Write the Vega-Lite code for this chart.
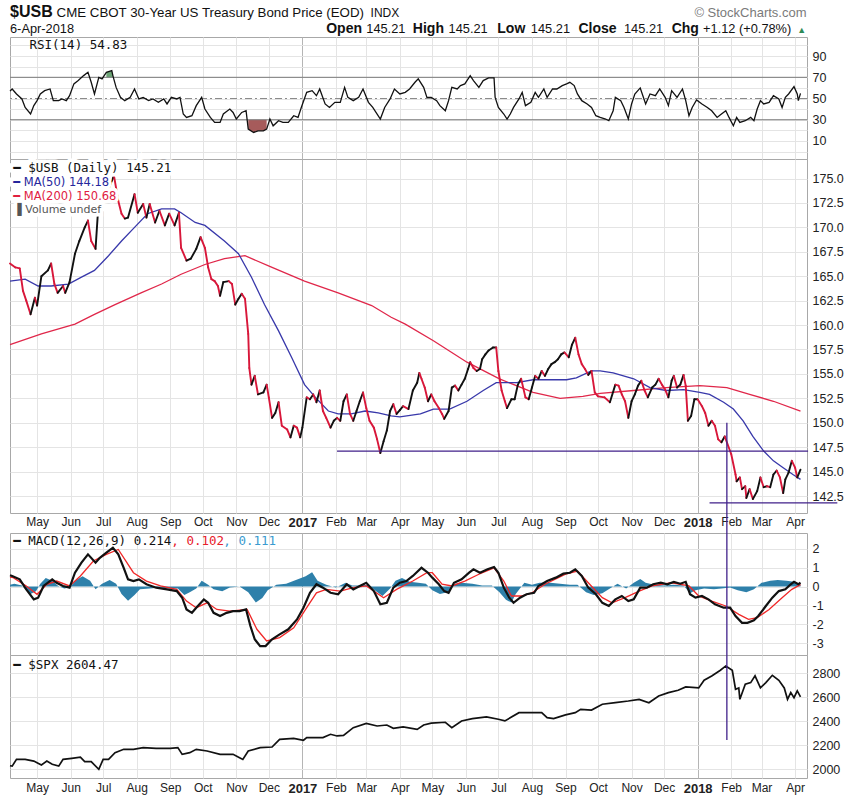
{
"$schema": "https://vega.github.io/schema/vega-lite/v6.json",
"background": "white",
"padding": {"left": 5, "top": 3, "right": 10, "bottom": 2},
"spacing": 0,
"bounds": "flush",
"config": {"view": {"stroke": "#a8a8a8"}, "font": "Liberation Sans", "axis": {"labelFont": "Liberation Sans", "labelOverlap": false}},
"datasets": {
"price": [
{"d":"2016-04-06","v":166.3},{"d":"2016-04-11","v":165.9},{"d":"2016-04-15","v":165.8},{"d":"2016-04-18","v":163.5},{"d":"2016-04-21","v":162.5},{"d":"2016-04-25","v":161.1},{"d":"2016-04-29","v":162.8},{"d":"2016-05-01","v":162.0},{"d":"2016-05-05","v":165.0},{"d":"2016-05-11","v":165.6},{"d":"2016-05-14","v":166.3},{"d":"2016-05-17","v":164.2},{"d":"2016-05-20","v":163.3},{"d":"2016-05-25","v":164.0},{"d":"2016-05-27","v":163.3},{"d":"2016-05-31","v":164.4},{"d":"2016-06-05","v":167.3},{"d":"2016-06-09","v":168.6},{"d":"2016-06-14","v":170.0},{"d":"2016-06-17","v":170.7},{"d":"2016-06-20","v":168.6},{"d":"2016-06-24","v":167.8},{"d":"2016-06-26","v":171.2},{"d":"2016-07-11","v":175.3},{"d":"2016-07-15","v":172.7},{"d":"2016-07-18","v":171.4},{"d":"2016-07-21","v":170.9},{"d":"2016-07-24","v":171.0},{"d":"2016-07-30","v":173.4},{"d":"2016-08-02","v":171.5},{"d":"2016-08-07","v":172.4},{"d":"2016-08-10","v":171.0},{"d":"2016-08-13","v":172.4},{"d":"2016-08-18","v":170.5},{"d":"2016-08-22","v":171.7},{"d":"2016-08-27","v":170.2},{"d":"2016-08-31","v":171.4},{"d":"2016-09-05","v":170.2},{"d":"2016-09-09","v":171.5},{"d":"2016-09-11","v":167.9},{"d":"2016-09-16","v":166.6},{"d":"2016-09-20","v":166.8},{"d":"2016-09-25","v":167.8},{"d":"2016-09-29","v":169.0},{"d":"2016-10-03","v":167.9},{"d":"2016-10-06","v":165.9},{"d":"2016-10-09","v":164.7},{"d":"2016-10-12","v":164.5},{"d":"2016-10-15","v":164.0},{"d":"2016-10-17","v":163.0},{"d":"2016-10-20","v":164.4},{"d":"2016-10-25","v":164.5},{"d":"2016-10-28","v":164.2},{"d":"2016-10-31","v":162.1},{"d":"2016-11-03","v":162.7},{"d":"2016-11-06","v":163.2},{"d":"2016-11-09","v":162.7},{"d":"2016-11-12","v":159.1},{"d":"2016-11-13","v":155.6},{"d":"2016-11-15","v":153.9},{"d":"2016-11-18","v":154.8},{"d":"2016-11-21","v":152.9},{"d":"2016-11-26","v":153.1},{"d":"2016-11-29","v":153.9},{"d":"2016-12-01","v":152.6},{"d":"2016-12-04","v":150.5},{"d":"2016-12-07","v":151.0},{"d":"2016-12-10","v":152.1},{"d":"2016-12-13","v":149.7},{"d":"2016-12-18","v":149.3},{"d":"2016-12-21","v":148.5},{"d":"2016-12-24","v":149.7},{"d":"2016-12-27","v":149.5},{"d":"2016-12-30","v":148.5},{"d":"2017-01-01","v":149.5},{"d":"2017-01-05","v":152.6},{"d":"2017-01-08","v":152.4},{"d":"2017-01-11","v":152.9},{"d":"2017-01-14","v":152.1},{"d":"2017-01-17","v":153.3},{"d":"2017-01-20","v":151.2},{"d":"2017-01-23","v":150.5},{"d":"2017-01-27","v":149.5},{"d":"2017-01-30","v":150.2},{"d":"2017-02-02","v":150.5},{"d":"2017-02-05","v":150.2},{"d":"2017-02-08","v":152.2},{"d":"2017-02-11","v":152.9},{"d":"2017-02-14","v":150.9},{"d":"2017-02-17","v":150.2},{"d":"2017-02-20","v":151.2},{"d":"2017-02-23","v":152.2},{"d":"2017-02-26","v":153.1},{"d":"2017-03-01","v":151.5},{"d":"2017-03-04","v":150.2},{"d":"2017-03-08","v":149.5},{"d":"2017-03-11","v":148.3},{"d":"2017-03-14","v":146.9},{"d":"2017-03-17","v":148.1},{"d":"2017-03-20","v":149.2},{"d":"2017-03-23","v":151.2},{"d":"2017-03-26","v":151.9},{"d":"2017-03-29","v":150.9},{"d":"2017-04-01","v":151.3},{"d":"2017-04-04","v":151.7},{"d":"2017-04-09","v":151.4},{"d":"2017-04-13","v":153.3},{"d":"2017-04-17","v":154.1},{"d":"2017-04-19","v":155.1},{"d":"2017-04-21","v":154.5},{"d":"2017-04-24","v":153.6},{"d":"2017-04-27","v":152.2},{"d":"2017-04-30","v":152.9},{"d":"2017-05-03","v":152.2},{"d":"2017-05-07","v":151.5},{"d":"2017-05-10","v":150.9},{"d":"2017-05-12","v":150.4},{"d":"2017-05-16","v":151.2},{"d":"2017-05-19","v":153.6},{"d":"2017-05-22","v":153.8},{"d":"2017-05-25","v":153.3},{"d":"2017-05-28","v":153.9},{"d":"2017-05-31","v":154.5},{"d":"2017-06-03","v":155.5},{"d":"2017-06-05","v":156.2},{"d":"2017-06-08","v":155.6},{"d":"2017-06-11","v":155.3},{"d":"2017-06-14","v":155.5},{"d":"2017-06-16","v":156.5},{"d":"2017-06-19","v":157.0},{"d":"2017-06-22","v":157.4},{"d":"2017-06-26","v":157.7},{"d":"2017-06-29","v":157.7},{"d":"2017-07-01","v":155.3},{"d":"2017-07-04","v":153.3},{"d":"2017-07-07","v":152.2},{"d":"2017-07-09","v":151.5},{"d":"2017-07-13","v":152.4},{"d":"2017-07-16","v":152.4},{"d":"2017-07-19","v":153.9},{"d":"2017-07-22","v":154.5},{"d":"2017-07-26","v":152.6},{"d":"2017-07-29","v":152.4},{"d":"2017-08-01","v":153.6},{"d":"2017-08-04","v":154.8},{"d":"2017-08-07","v":154.5},{"d":"2017-08-10","v":155.3},{"d":"2017-08-13","v":154.8},{"d":"2017-08-16","v":155.5},{"d":"2017-08-19","v":156.0},{"d":"2017-08-22","v":156.2},{"d":"2017-08-25","v":156.5},{"d":"2017-08-28","v":157.0},{"d":"2017-08-31","v":157.2},{"d":"2017-09-04","v":156.7},{"d":"2017-09-07","v":158.0},{"d":"2017-09-10","v":158.7},{"d":"2017-09-13","v":157.0},{"d":"2017-09-16","v":156.0},{"d":"2017-09-19","v":155.5},{"d":"2017-09-22","v":154.9},{"d":"2017-09-25","v":155.3},{"d":"2017-09-28","v":153.1},{"d":"2017-10-01","v":152.7},{"d":"2017-10-07","v":152.6},{"d":"2017-10-12","v":152.1},{"d":"2017-10-17","v":153.9},{"d":"2017-10-20","v":153.8},{"d":"2017-10-23","v":152.9},{"d":"2017-10-26","v":152.2},{"d":"2017-10-29","v":150.5},{"d":"2017-11-01","v":152.2},{"d":"2017-11-04","v":152.9},{"d":"2017-11-07","v":153.8},{"d":"2017-11-10","v":154.3},{"d":"2017-11-13","v":153.3},{"d":"2017-11-16","v":152.6},{"d":"2017-11-20","v":153.6},{"d":"2017-11-23","v":153.9},{"d":"2017-11-26","v":154.5},{"d":"2017-11-29","v":153.9},{"d":"2017-12-02","v":153.4},{"d":"2017-12-05","v":152.6},{"d":"2017-12-08","v":154.3},{"d":"2017-12-10","v":154.8},{"d":"2017-12-13","v":153.6},{"d":"2017-12-16","v":153.9},{"d":"2017-12-19","v":154.9},{"d":"2017-12-21","v":153.8},{"d":"2017-12-23","v":150.2},{"d":"2017-12-26","v":150.7},{"d":"2017-12-29","v":152.4},{"d":"2018-01-01","v":152.4},{"d":"2018-01-05","v":151.7},{"d":"2018-01-08","v":151.0},{"d":"2018-01-11","v":149.7},{"d":"2018-01-14","v":150.2},{"d":"2018-01-17","v":149.7},{"d":"2018-01-20","v":148.3},{"d":"2018-01-23","v":148.0},{"d":"2018-01-26","v":148.6},{"d":"2018-02-01","v":146.8},{"d":"2018-02-05","v":144.7},{"d":"2018-02-06","v":144.0},{"d":"2018-02-09","v":144.4},{"d":"2018-02-11","v":143.2},{"d":"2018-02-14","v":143.5},{"d":"2018-02-15","v":142.3},{"d":"2018-02-18","v":143.2},{"d":"2018-02-21","v":142.2},{"d":"2018-02-25","v":143.0},{"d":"2018-02-28","v":144.4},{"d":"2018-03-03","v":143.4},{"d":"2018-03-06","v":143.5},{"d":"2018-03-09","v":143.4},{"d":"2018-03-12","v":144.7},{"d":"2018-03-15","v":145.1},{"d":"2018-03-18","v":144.4},{"d":"2018-03-21","v":142.8},{"d":"2018-03-23","v":144.2},{"d":"2018-03-26","v":144.9},{"d":"2018-03-29","v":146.1},{"d":"2018-04-01","v":145.4},{"d":"2018-04-03","v":144.4},{"d":"2018-04-06","v":145.2}
],
"ma": [
{"s":"MA50","d":"2016-04-06","v":164.5},{"s":"MA50","d":"2016-04-20","v":164.7},{"s":"MA50","d":"2016-05-02","v":164.0},{"s":"MA50","d":"2016-05-14","v":164.0},{"s":"MA50","d":"2016-05-30","v":164.2},{"s":"MA50","d":"2016-06-11","v":164.9},{"s":"MA50","d":"2016-06-23","v":165.6},{"s":"MA50","d":"2016-07-06","v":167.1},{"s":"MA50","d":"2016-07-18","v":168.6},{"s":"MA50","d":"2016-07-30","v":170.0},{"s":"MA50","d":"2016-08-11","v":171.4},{"s":"MA50","d":"2016-08-24","v":171.9},{"s":"MA50","d":"2016-09-05","v":171.9},{"s":"MA50","d":"2016-09-11","v":171.5},{"s":"MA50","d":"2016-09-24","v":170.5},{"s":"MA50","d":"2016-10-03","v":170.2},{"s":"MA50","d":"2016-10-21","v":168.6},{"s":"MA50","d":"2016-11-03","v":167.3},{"s":"MA50","d":"2016-11-15","v":164.9},{"s":"MA50","d":"2016-11-27","v":162.1},{"s":"MA50","d":"2016-12-10","v":159.4},{"s":"MA50","d":"2016-12-22","v":156.7},{"s":"MA50","d":"2017-01-03","v":153.9},{"s":"MA50","d":"2017-01-13","v":152.6},{"s":"MA50","d":"2017-01-25","v":151.2},{"s":"MA50","d":"2017-02-03","v":150.9},{"s":"MA50","d":"2017-02-15","v":150.9},{"s":"MA50","d":"2017-02-28","v":151.2},{"s":"MA50","d":"2017-03-12","v":151.0},{"s":"MA50","d":"2017-03-24","v":150.7},{"s":"MA50","d":"2017-04-01","v":150.6},{"s":"MA50","d":"2017-04-20","v":150.9},{"s":"MA50","d":"2017-05-02","v":151.4},{"s":"MA50","d":"2017-05-17","v":151.4},{"s":"MA50","d":"2017-06-02","v":152.2},{"s":"MA50","d":"2017-06-17","v":153.3},{"s":"MA50","d":"2017-06-29","v":154.1},{"s":"MA50","d":"2017-07-18","v":154.1},{"s":"MA50","d":"2017-08-02","v":154.4},{"s":"MA50","d":"2017-08-18","v":154.4},{"s":"MA50","d":"2017-09-02","v":154.4},{"s":"MA50","d":"2017-09-11","v":154.6},{"s":"MA50","d":"2017-09-25","v":155.3},{"s":"MA50","d":"2017-10-03","v":155.3},{"s":"MA50","d":"2017-10-15","v":155.1},{"s":"MA50","d":"2017-11-03","v":154.5},{"s":"MA50","d":"2017-11-18","v":153.6},{"s":"MA50","d":"2017-12-03","v":153.3},{"s":"MA50","d":"2017-12-19","v":153.4},{"s":"MA50","d":"2018-01-03","v":153.1},{"s":"MA50","d":"2018-01-12","v":152.9},{"s":"MA50","d":"2018-01-25","v":152.1},{"s":"MA50","d":"2018-02-03","v":151.4},{"s":"MA50","d":"2018-02-12","v":150.2},{"s":"MA50","d":"2018-02-21","v":148.6},{"s":"MA50","d":"2018-03-03","v":147.1},{"s":"MA50","d":"2018-03-12","v":146.1},{"s":"MA50","d":"2018-03-21","v":145.4},{"s":"MA50","d":"2018-03-30","v":144.7},{"s":"MA50","d":"2018-04-06","v":144.2},
{"s":"MA200","d":"2016-04-06","v":158.0},{"s":"MA200","d":"2016-05-05","v":159.1},{"s":"MA200","d":"2016-06-05","v":160.1},{"s":"MA200","d":"2016-06-23","v":161.1},{"s":"MA200","d":"2016-07-12","v":162.1},{"s":"MA200","d":"2016-08-05","v":163.3},{"s":"MA200","d":"2016-08-24","v":164.2},{"s":"MA200","d":"2016-09-11","v":165.2},{"s":"MA200","d":"2016-10-03","v":166.2},{"s":"MA200","d":"2016-10-21","v":166.8},{"s":"MA200","d":"2016-11-09","v":167.1},{"s":"MA200","d":"2016-12-04","v":165.9},{"s":"MA200","d":"2017-01-03","v":164.5},{"s":"MA200","d":"2017-02-03","v":163.3},{"s":"MA200","d":"2017-03-06","v":162.0},{"s":"MA200","d":"2017-03-24","v":160.8},{"s":"MA200","d":"2017-04-06","v":160.1},{"s":"MA200","d":"2017-05-02","v":158.4},{"s":"MA200","d":"2017-06-02","v":156.2},{"s":"MA200","d":"2017-07-02","v":154.5},{"s":"MA200","d":"2017-08-02","v":153.1},{"s":"MA200","d":"2017-08-27","v":152.5},{"s":"MA200","d":"2017-09-17","v":152.7},{"s":"MA200","d":"2017-10-03","v":153.0},{"s":"MA200","d":"2017-11-03","v":153.3},{"s":"MA200","d":"2017-12-03","v":153.6},{"s":"MA200","d":"2018-01-03","v":153.8},{"s":"MA200","d":"2018-01-28","v":153.6},{"s":"MA200","d":"2018-02-18","v":152.9},{"s":"MA200","d":"2018-03-12","v":152.2},{"s":"MA200","d":"2018-04-06","v":151.2}
],
"rsi": [
{"d":"2016-04-06","v":57.0},{"d":"2016-04-08","v":59.0},{"d":"2016-04-12","v":54.3},{"d":"2016-04-17","v":49.6},{"d":"2016-04-20","v":41.6},{"d":"2016-04-25","v":35.4},{"d":"2016-04-28","v":43.3},{"d":"2016-05-01","v":48.0},{"d":"2016-05-04","v":54.3},{"d":"2016-05-08","v":57.4},{"d":"2016-05-13","v":59.0},{"d":"2016-05-16","v":48.0},{"d":"2016-05-21","v":48.0},{"d":"2016-05-24","v":49.6},{"d":"2016-05-28","v":48.0},{"d":"2016-05-31","v":52.7},{"d":"2016-06-04","v":63.8},{"d":"2016-06-08","v":66.9},{"d":"2016-06-13","v":71.6},{"d":"2016-06-17","v":74.7},{"d":"2016-06-20","v":65.3},{"d":"2016-06-23","v":54.3},{"d":"2016-06-27","v":70.0},{"d":"2016-06-30","v":68.5},{"d":"2016-07-04","v":74.7},{"d":"2016-07-09","v":76.3},{"d":"2016-07-10","v":71.6},{"d":"2016-07-13","v":60.5},{"d":"2016-07-17","v":51.1},{"d":"2016-07-21","v":48.0},{"d":"2016-07-26","v":51.1},{"d":"2016-07-30","v":59.0},{"d":"2016-08-03","v":49.6},{"d":"2016-08-07","v":51.1},{"d":"2016-08-12","v":48.0},{"d":"2016-08-16","v":49.6},{"d":"2016-08-21","v":46.4},{"d":"2016-08-26","v":49.6},{"d":"2016-08-29","v":44.9},{"d":"2016-09-02","v":51.1},{"d":"2016-09-07","v":49.6},{"d":"2016-09-10","v":51.1},{"d":"2016-09-13","v":35.4},{"d":"2016-09-16","v":32.2},{"d":"2016-09-21","v":33.8},{"d":"2016-09-25","v":43.3},{"d":"2016-09-30","v":51.1},{"d":"2016-10-03","v":40.1},{"d":"2016-10-08","v":32.2},{"d":"2016-10-12","v":27.5},{"d":"2016-10-17","v":27.5},{"d":"2016-10-20","v":35.4},{"d":"2016-10-26","v":40.1},{"d":"2016-10-29","v":36.9},{"d":"2016-11-01","v":30.7},{"d":"2016-11-06","v":36.9},{"d":"2016-11-10","v":38.5},{"d":"2016-11-12","v":21.2},{"d":"2016-11-17","v":18.0},{"d":"2016-11-21","v":19.6},{"d":"2016-11-26","v":19.6},{"d":"2016-11-29","v":21.2},{"d":"2016-12-02","v":30.7},{"d":"2016-12-05","v":24.3},{"d":"2016-12-10","v":29.1},{"d":"2016-12-14","v":27.5},{"d":"2016-12-19","v":27.5},{"d":"2016-12-24","v":33.8},{"d":"2016-12-28","v":32.2},{"d":"2016-12-31","v":41.6},{"d":"2017-01-05","v":55.8},{"d":"2017-01-10","v":57.4},{"d":"2017-01-14","v":52.7},{"d":"2017-01-17","v":59.0},{"d":"2017-01-22","v":44.9},{"d":"2017-01-26","v":41.6},{"d":"2017-01-31","v":46.4},{"d":"2017-02-05","v":46.4},{"d":"2017-02-09","v":60.5},{"d":"2017-02-12","v":51.1},{"d":"2017-02-17","v":48.0},{"d":"2017-02-22","v":51.1},{"d":"2017-02-26","v":59.0},{"d":"2017-03-03","v":46.4},{"d":"2017-03-07","v":41.6},{"d":"2017-03-14","v":30.7},{"d":"2017-03-18","v":41.6},{"d":"2017-03-23","v":49.6},{"d":"2017-03-27","v":59.0},{"d":"2017-04-01","v":54.3},{"d":"2017-04-06","v":55.8},{"d":"2017-04-10","v":59.0},{"d":"2017-04-15","v":65.3},{"d":"2017-04-18","v":68.5},{"d":"2017-04-23","v":60.5},{"d":"2017-04-26","v":51.1},{"d":"2017-04-30","v":51.1},{"d":"2017-05-05","v":48.0},{"d":"2017-05-08","v":43.3},{"d":"2017-05-13","v":38.5},{"d":"2017-05-16","v":48.0},{"d":"2017-05-19","v":60.5},{"d":"2017-05-24","v":59.0},{"d":"2017-05-27","v":62.2},{"d":"2017-05-31","v":63.8},{"d":"2017-06-05","v":71.6},{"d":"2017-06-08","v":66.9},{"d":"2017-06-13","v":60.5},{"d":"2017-06-17","v":66.9},{"d":"2017-06-22","v":69.4},{"d":"2017-06-27","v":69.4},{"d":"2017-06-28","v":51.1},{"d":"2017-07-01","v":41.6},{"d":"2017-07-06","v":35.4},{"d":"2017-07-09","v":30.7},{"d":"2017-07-12","v":35.4},{"d":"2017-07-15","v":41.6},{"d":"2017-07-20","v":49.6},{"d":"2017-07-23","v":55.8},{"d":"2017-07-26","v":43.3},{"d":"2017-07-31","v":46.4},{"d":"2017-08-04","v":55.8},{"d":"2017-08-07","v":51.1},{"d":"2017-08-12","v":59.0},{"d":"2017-08-15","v":51.1},{"d":"2017-08-20","v":59.0},{"d":"2017-08-24","v":59.0},{"d":"2017-08-29","v":62.2},{"d":"2017-09-02","v":63.8},{"d":"2017-09-05","v":65.3},{"d":"2017-09-09","v":62.2},{"d":"2017-09-12","v":54.3},{"d":"2017-09-16","v":48.0},{"d":"2017-09-21","v":44.9},{"d":"2017-09-25","v":41.6},{"d":"2017-09-29","v":33.8},{"d":"2017-10-03","v":32.2},{"d":"2017-10-08","v":30.7},{"d":"2017-10-11","v":29.1},{"d":"2017-10-15","v":38.5},{"d":"2017-10-17","v":51.1},{"d":"2017-10-22","v":48.0},{"d":"2017-10-25","v":41.6},{"d":"2017-10-29","v":30.7},{"d":"2017-11-01","v":44.9},{"d":"2017-11-04","v":54.3},{"d":"2017-11-09","v":60.0},{"d":"2017-11-14","v":44.9},{"d":"2017-11-18","v":54.3},{"d":"2017-11-23","v":52.7},{"d":"2017-11-27","v":59.0},{"d":"2017-12-02","v":51.1},{"d":"2017-12-05","v":43.3},{"d":"2017-12-08","v":57.4},{"d":"2017-12-13","v":51.1},{"d":"2017-12-18","v":59.0},{"d":"2017-12-21","v":48.0},{"d":"2017-12-24","v":33.8},{"d":"2017-12-27","v":41.6},{"d":"2017-12-31","v":48.6},{"d":"2018-01-05","v":44.9},{"d":"2018-01-10","v":41.6},{"d":"2018-01-14","v":38.5},{"d":"2018-01-19","v":32.2},{"d":"2018-01-23","v":35.4},{"d":"2018-01-27","v":38.5},{"d":"2018-01-30","v":32.2},{"d":"2018-02-03","v":24.3},{"d":"2018-02-06","v":32.2},{"d":"2018-02-09","v":27.5},{"d":"2018-02-14","v":29.1},{"d":"2018-02-19","v":32.2},{"d":"2018-02-22","v":29.1},{"d":"2018-02-25","v":40.1},{"d":"2018-02-28","v":48.0},{"d":"2018-03-03","v":44.9},{"d":"2018-03-08","v":46.4},{"d":"2018-03-12","v":52.7},{"d":"2018-03-17","v":49.6},{"d":"2018-03-20","v":41.6},{"d":"2018-03-23","v":51.1},{"d":"2018-03-26","v":54.3},{"d":"2018-03-31","v":61.2},{"d":"2018-04-03","v":54.3},{"d":"2018-04-04","v":48.0},{"d":"2018-04-06","v":54.8}
],
"macd": [
{"s":"MACD","d":"2016-04-06","v":0.6},{"s":"MACD","d":"2016-04-08","v":0.56},{"s":"MACD","d":"2016-04-15","v":0.38},{"s":"MACD","d":"2016-04-21","v":-0.15},{"s":"MACD","d":"2016-04-28","v":-0.68},{"s":"MACD","d":"2016-05-02","v":-0.59},{"s":"MACD","d":"2016-05-07","v":0.03},{"s":"MACD","d":"2016-05-15","v":0.38},{"s":"MACD","d":"2016-05-19","v":0.2},{"s":"MACD","d":"2016-05-25","v":0.03},{"s":"MACD","d":"2016-05-31","v":-0.06},{"s":"MACD","d":"2016-06-05","v":0.73},{"s":"MACD","d":"2016-06-11","v":1.26},{"s":"MACD","d":"2016-06-17","v":1.7},{"s":"MACD","d":"2016-06-24","v":1.26},{"s":"MACD","d":"2016-06-28","v":1.52},{"s":"MACD","d":"2016-07-04","v":1.79},{"s":"MACD","d":"2016-07-10","v":2.05},{"s":"MACD","d":"2016-07-15","v":1.7},{"s":"MACD","d":"2016-07-20","v":0.99},{"s":"MACD","d":"2016-07-24","v":0.38},{"s":"MACD","d":"2016-07-29","v":0.29},{"s":"MACD","d":"2016-08-03","v":0.38},{"s":"MACD","d":"2016-08-10","v":0.12},{"s":"MACD","d":"2016-08-19","v":-0.06},{"s":"MACD","d":"2016-08-29","v":-0.15},{"s":"MACD","d":"2016-09-07","v":-0.24},{"s":"MACD","d":"2016-09-12","v":-0.59},{"s":"MACD","d":"2016-09-16","v":-1.21},{"s":"MACD","d":"2016-09-21","v":-1.39},{"s":"MACD","d":"2016-09-25","v":-1.12},{"s":"MACD","d":"2016-10-02","v":-0.68},{"s":"MACD","d":"2016-10-06","v":-0.86},{"s":"MACD","d":"2016-10-11","v":-1.39},{"s":"MACD","d":"2016-10-17","v":-1.56},{"s":"MACD","d":"2016-10-23","v":-1.39},{"s":"MACD","d":"2016-10-29","v":-1.3},{"s":"MACD","d":"2016-11-04","v":-1.3},{"s":"MACD","d":"2016-11-10","v":-1.21},{"s":"MACD","d":"2016-11-14","v":-2.09},{"s":"MACD","d":"2016-11-18","v":-2.79},{"s":"MACD","d":"2016-11-23","v":-3.15},{"s":"MACD","d":"2016-11-28","v":-3.15},{"s":"MACD","d":"2016-12-04","v":-2.79},{"s":"MACD","d":"2016-12-11","v":-2.53},{"s":"MACD","d":"2016-12-19","v":-2.26},{"s":"MACD","d":"2016-12-27","v":-1.74},{"s":"MACD","d":"2017-01-02","v":-1.12},{"s":"MACD","d":"2017-01-08","v":-0.33},{"s":"MACD","d":"2017-01-14","v":0.12},{"s":"MACD","d":"2017-01-20","v":-0.06},{"s":"MACD","d":"2017-01-27","v":-0.33},{"s":"MACD","d":"2017-02-03","v":-0.41},{"s":"MACD","d":"2017-02-11","v":0.12},{"s":"MACD","d":"2017-02-17","v":-0.15},{"s":"MACD","d":"2017-02-23","v":0.03},{"s":"MACD","d":"2017-03-01","v":0.2},{"s":"MACD","d":"2017-03-08","v":-0.24},{"s":"MACD","d":"2017-03-14","v":-0.94},{"s":"MACD","d":"2017-03-20","v":-0.86},{"s":"MACD","d":"2017-03-26","v":-0.06},{"s":"MACD","d":"2017-04-01","v":0.2},{"s":"MACD","d":"2017-04-07","v":0.29},{"s":"MACD","d":"2017-04-13","v":0.56},{"s":"MACD","d":"2017-04-21","v":0.99},{"s":"MACD","d":"2017-04-27","v":0.73},{"s":"MACD","d":"2017-05-01","v":0.47},{"s":"MACD","d":"2017-05-07","v":0.12},{"s":"MACD","d":"2017-05-12","v":-0.24},{"s":"MACD","d":"2017-05-16","v":-0.33},{"s":"MACD","d":"2017-05-21","v":0.2},{"s":"MACD","d":"2017-05-28","v":0.38},{"s":"MACD","d":"2017-06-04","v":0.73},{"s":"MACD","d":"2017-06-08","v":0.91},{"s":"MACD","d":"2017-06-14","v":0.73},{"s":"MACD","d":"2017-06-21","v":0.91},{"s":"MACD","d":"2017-06-27","v":1.03},{"s":"MACD","d":"2017-07-01","v":0.73},{"s":"MACD","d":"2017-07-06","v":-0.06},{"s":"MACD","d":"2017-07-11","v":-0.59},{"s":"MACD","d":"2017-07-15","v":-0.86},{"s":"MACD","d":"2017-07-21","v":-0.59},{"s":"MACD","d":"2017-07-27","v":-0.41},{"s":"MACD","d":"2017-08-03","v":-0.33},{"s":"MACD","d":"2017-08-07","v":0.03},{"s":"MACD","d":"2017-08-15","v":0.29},{"s":"MACD","d":"2017-08-23","v":0.47},{"s":"MACD","d":"2017-08-30","v":0.68},{"s":"MACD","d":"2017-09-05","v":0.73},{"s":"MACD","d":"2017-09-10","v":0.91},{"s":"MACD","d":"2017-09-16","v":0.56},{"s":"MACD","d":"2017-09-22","v":-0.06},{"s":"MACD","d":"2017-09-29","v":-0.41},{"s":"MACD","d":"2017-10-05","v":-0.86},{"s":"MACD","d":"2017-10-11","v":-1.03},{"s":"MACD","d":"2017-10-17","v":-0.68},{"s":"MACD","d":"2017-10-23","v":-0.5},{"s":"MACD","d":"2017-10-29","v":-0.77},{"s":"MACD","d":"2017-11-03","v":-0.68},{"s":"MACD","d":"2017-11-09","v":-0.06},{"s":"MACD","d":"2017-11-15","v":-0.06},{"s":"MACD","d":"2017-11-21","v":0.12},{"s":"MACD","d":"2017-11-28","v":0.2},{"s":"MACD","d":"2017-12-04","v":0.12},{"s":"MACD","d":"2017-12-10","v":0.24},{"s":"MACD","d":"2017-12-16","v":0.15},{"s":"MACD","d":"2017-12-21","v":0.25},{"s":"MACD","d":"2017-12-25","v":-0.41},{"s":"MACD","d":"2017-12-30","v":-0.59},{"s":"MACD","d":"2018-01-05","v":-0.5},{"s":"MACD","d":"2018-01-11","v":-0.68},{"s":"MACD","d":"2018-01-17","v":-0.94},{"s":"MACD","d":"2018-01-25","v":-1.12},{"s":"MACD","d":"2018-01-31","v":-1.12},{"s":"MACD","d":"2018-02-05","v":-1.56},{"s":"MACD","d":"2018-02-11","v":-1.92},{"s":"MACD","d":"2018-02-16","v":-1.92},{"s":"MACD","d":"2018-02-22","v":-1.79},{"s":"MACD","d":"2018-02-26","v":-1.56},{"s":"MACD","d":"2018-03-05","v":-1.03},{"s":"MACD","d":"2018-03-11","v":-0.59},{"s":"MACD","d":"2018-03-17","v":-0.24},{"s":"MACD","d":"2018-03-23","v":-0.15},{"s":"MACD","d":"2018-03-28","v":0.12},{"s":"MACD","d":"2018-03-31","v":0.25},{"s":"MACD","d":"2018-04-04","v":0.12},{"s":"MACD","d":"2018-04-06","v":0.21},
{"s":"Signal","d":"2016-04-06","v":0.5},{"s":"Signal","d":"2016-04-09","v":0.47},{"s":"Signal","d":"2016-04-21","v":0.03},{"s":"Signal","d":"2016-05-01","v":-0.41},{"s":"Signal","d":"2016-05-10","v":0.12},{"s":"Signal","d":"2016-05-19","v":0.29},{"s":"Signal","d":"2016-05-31","v":0.03},{"s":"Signal","d":"2016-06-10","v":0.56},{"s":"Signal","d":"2016-06-22","v":1.35},{"s":"Signal","d":"2016-07-04","v":1.7},{"s":"Signal","d":"2016-07-15","v":1.96},{"s":"Signal","d":"2016-07-21","v":1.44},{"s":"Signal","d":"2016-07-29","v":0.73},{"s":"Signal","d":"2016-08-10","v":0.29},{"s":"Signal","d":"2016-08-23","v":0.03},{"s":"Signal","d":"2016-09-07","v":-0.15},{"s":"Signal","d":"2016-09-16","v":-0.77},{"s":"Signal","d":"2016-09-25","v":-1.12},{"s":"Signal","d":"2016-10-05","v":-0.86},{"s":"Signal","d":"2016-10-14","v":-1.21},{"s":"Signal","d":"2016-10-26","v":-1.3},{"s":"Signal","d":"2016-11-11","v":-1.21},{"s":"Signal","d":"2016-11-20","v":-2.26},{"s":"Signal","d":"2016-11-29","v":-2.88},{"s":"Signal","d":"2016-12-11","v":-2.7},{"s":"Signal","d":"2016-12-24","v":-2.18},{"s":"Signal","d":"2017-01-05","v":-1.12},{"s":"Signal","d":"2017-01-14","v":-0.33},{"s":"Signal","d":"2017-01-23","v":-0.15},{"s":"Signal","d":"2017-02-05","v":-0.24},{"s":"Signal","d":"2017-02-17","v":-0.06},{"s":"Signal","d":"2017-03-01","v":0.03},{"s":"Signal","d":"2017-03-17","v":-0.59},{"s":"Signal","d":"2017-03-29","v":-0.15},{"s":"Signal","d":"2017-04-13","v":0.29},{"s":"Signal","d":"2017-04-26","v":0.73},{"s":"Signal","d":"2017-05-01","v":0.73},{"s":"Signal","d":"2017-05-10","v":0.12},{"s":"Signal","d":"2017-05-19","v":0.03},{"s":"Signal","d":"2017-05-31","v":0.29},{"s":"Signal","d":"2017-06-13","v":0.65},{"s":"Signal","d":"2017-06-27","v":0.99},{"s":"Signal","d":"2017-07-06","v":0.29},{"s":"Signal","d":"2017-07-13","v":-0.5},{"s":"Signal","d":"2017-07-23","v":-0.5},{"s":"Signal","d":"2017-08-01","v":-0.33},{"s":"Signal","d":"2017-08-13","v":0.12},{"s":"Signal","d":"2017-09-01","v":0.65},{"s":"Signal","d":"2017-09-12","v":0.82},{"s":"Signal","d":"2017-09-22","v":0.2},{"s":"Signal","d":"2017-10-05","v":-0.59},{"s":"Signal","d":"2017-10-14","v":-0.86},{"s":"Signal","d":"2017-10-26","v":-0.59},{"s":"Signal","d":"2017-11-08","v":-0.24},{"s":"Signal","d":"2017-11-20","v":0.03},{"s":"Signal","d":"2017-12-08","v":0.2},{"s":"Signal","d":"2017-12-24","v":0.03},{"s":"Signal","d":"2018-01-02","v":-0.5},{"s":"Signal","d":"2018-01-14","v":-0.77},{"s":"Signal","d":"2018-01-27","v":-1.03},{"s":"Signal","d":"2018-02-08","v":-1.47},{"s":"Signal","d":"2018-02-17","v":-1.74},{"s":"Signal","d":"2018-02-25","v":-1.65},{"s":"Signal","d":"2018-03-08","v":-1.21},{"s":"Signal","d":"2018-03-20","v":-0.59},{"s":"Signal","d":"2018-03-29","v":-0.15},{"s":"Signal","d":"2018-04-06","v":0.1}
],
"hist": [
{"d":"2016-04-06","v":0.1},{"d":"2016-04-10","v":0.15},{"d":"2016-04-17","v":0.05},{"d":"2016-04-21","v":-0.2},{"d":"2016-04-25","v":-0.4},{"d":"2016-04-30","v":-0.25},{"d":"2016-05-04","v":0.15},{"d":"2016-05-09","v":0.45},{"d":"2016-05-15","v":0.3},{"d":"2016-05-20","v":0.05},{"d":"2016-05-26","v":-0.1},{"d":"2016-05-31","v":-0.05},{"d":"2016-06-06","v":0.35},{"d":"2016-06-12","v":0.55},{"d":"2016-06-19","v":0.3},{"d":"2016-06-24","v":-0.15},{"d":"2016-06-30","v":0.15},{"d":"2016-07-07","v":0.35},{"d":"2016-07-13","v":0.15},{"d":"2016-07-18","v":-0.4},{"d":"2016-07-24","v":-0.75},{"d":"2016-07-30","v":-0.45},{"d":"2016-08-04","v":-0.15},{"d":"2016-08-13","v":-0.1},{"d":"2016-08-23","v":-0.05},{"d":"2016-09-01","v":-0.1},{"d":"2016-09-08","v":-0.1},{"d":"2016-09-14","v":-0.45},{"d":"2016-09-19","v":-0.3},{"d":"2016-09-25","v":-0.1},{"d":"2016-09-30","v":0.3},{"d":"2016-10-06","v":0.1},{"d":"2016-10-11","v":-0.15},{"d":"2016-10-19","v":-0.25},{"d":"2016-10-26","v":-0.05},{"d":"2016-11-04","v":0.0},{"d":"2016-11-12","v":-0.3},{"d":"2016-11-19","v":-0.85},{"d":"2016-11-25","v":-0.6},{"d":"2016-11-30","v":-0.2},{"d":"2016-12-08","v":0.1},{"d":"2016-12-17","v":0.15},{"d":"2016-12-26","v":0.35},{"d":"2017-01-04","v":0.55},{"d":"2017-01-10","v":0.75},{"d":"2017-01-15","v":0.3},{"d":"2017-01-23","v":0.1},{"d":"2017-02-01","v":-0.05},{"d":"2017-02-10","v":0.2},{"d":"2017-02-16","v":0.05},{"d":"2017-02-23","v":0.05},{"d":"2017-03-03","v":0.1},{"d":"2017-03-10","v":-0.25},{"d":"2017-03-16","v":-0.5},{"d":"2017-03-23","v":-0.1},{"d":"2017-03-28","v":0.3},{"d":"2017-04-03","v":0.45},{"d":"2017-04-10","v":0.25},{"d":"2017-04-18","v":0.2},{"d":"2017-04-25","v":0.15},{"d":"2017-05-01","v":-0.2},{"d":"2017-05-08","v":-0.4},{"d":"2017-05-15","v":-0.3},{"d":"2017-05-22","v":0.15},{"d":"2017-05-28","v":0.2},{"d":"2017-06-07","v":0.15},{"d":"2017-06-16","v":0.05},{"d":"2017-06-25","v":0.05},{"d":"2017-07-02","v":-0.3},{"d":"2017-07-08","v":-0.7},{"d":"2017-07-13","v":-0.85},{"d":"2017-07-17","v":-0.4},{"d":"2017-07-25","v":0.2},{"d":"2017-08-01","v":0.1},{"d":"2017-08-08","v":0.2},{"d":"2017-08-18","v":0.2},{"d":"2017-08-27","v":0.15},{"d":"2017-09-05","v":0.1},{"d":"2017-09-12","v":0.1},{"d":"2017-09-20","v":-0.3},{"d":"2017-09-27","v":-0.45},{"d":"2017-10-05","v":-0.35},{"d":"2017-10-12","v":-0.1},{"d":"2017-10-19","v":0.15},{"d":"2017-10-27","v":-0.1},{"d":"2017-11-03","v":0.2},{"d":"2017-11-09","v":0.4},{"d":"2017-11-14","v":0.2},{"d":"2017-11-22","v":0.1},{"d":"2017-12-01","v":0.05},{"d":"2017-12-10","v":0.1},{"d":"2017-12-19","v":0.05},{"d":"2017-12-25","v":-0.35},{"d":"2017-12-30","v":-0.2},{"d":"2018-01-07","v":-0.1},{"d":"2018-01-16","v":-0.15},{"d":"2018-01-23","v":-0.1},{"d":"2018-01-31","v":-0.05},{"d":"2018-02-07","v":-0.2},{"d":"2018-02-15","v":-0.3},{"d":"2018-02-22","v":-0.15},{"d":"2018-03-01","v":0.2},{"d":"2018-03-09","v":0.3},{"d":"2018-03-16","v":0.35},{"d":"2018-03-24","v":0.3},{"d":"2018-03-31","v":0.25},{"d":"2018-04-06","v":0.11}
],
"spx": [
{"d":"2016-04-06","v":2030},{"d":"2016-04-08","v":2027},{"d":"2016-04-12","v":2083},{"d":"2016-04-20","v":2083},{"d":"2016-04-28","v":2069},{"d":"2016-05-05","v":2036},{"d":"2016-05-10","v":2069},{"d":"2016-05-15","v":2042},{"d":"2016-05-21","v":2027},{"d":"2016-05-25","v":2083},{"d":"2016-06-02","v":2092},{"d":"2016-06-10","v":2102},{"d":"2016-06-14","v":2064},{"d":"2016-06-20","v":2064},{"d":"2016-06-27","v":2000},{"d":"2016-07-01","v":2083},{"d":"2016-07-06","v":2083},{"d":"2016-07-12","v":2139},{"d":"2016-07-20","v":2167},{"d":"2016-07-29","v":2167},{"d":"2016-08-07","v":2181},{"d":"2016-08-19","v":2175},{"d":"2016-09-01","v":2175},{"d":"2016-09-08","v":2181},{"d":"2016-09-12","v":2125},{"d":"2016-09-19","v":2139},{"d":"2016-09-25","v":2167},{"d":"2016-10-05","v":2153},{"d":"2016-10-17","v":2125},{"d":"2016-10-29","v":2125},{"d":"2016-11-04","v":2097},{"d":"2016-11-07","v":2083},{"d":"2016-11-12","v":2153},{"d":"2016-11-23","v":2181},{"d":"2016-12-04","v":2186},{"d":"2016-12-11","v":2250},{"d":"2016-12-24","v":2258},{"d":"2017-01-02","v":2242},{"d":"2017-01-05","v":2264},{"d":"2017-01-20","v":2264},{"d":"2017-01-27","v":2292},{"d":"2017-02-02","v":2278},{"d":"2017-02-08","v":2283},{"d":"2017-02-17","v":2347},{"d":"2017-03-01","v":2383},{"d":"2017-03-11","v":2361},{"d":"2017-03-20","v":2369},{"d":"2017-03-26","v":2342},{"d":"2017-04-04","v":2353},{"d":"2017-04-17","v":2333},{"d":"2017-04-23","v":2369},{"d":"2017-04-30","v":2385},{"d":"2017-05-13","v":2392},{"d":"2017-05-19","v":2347},{"d":"2017-05-28","v":2403},{"d":"2017-06-07","v":2422},{"d":"2017-06-20","v":2436},{"d":"2017-07-01","v":2417},{"d":"2017-07-07","v":2403},{"d":"2017-07-20","v":2472},{"d":"2017-08-01","v":2472},{"d":"2017-08-10","v":2472},{"d":"2017-08-15","v":2431},{"d":"2017-08-21","v":2422},{"d":"2017-09-01","v":2453},{"d":"2017-09-10","v":2472},{"d":"2017-09-15","v":2500},{"d":"2017-09-25","v":2494},{"d":"2017-10-05","v":2542},{"d":"2017-10-17","v":2555},{"d":"2017-10-29","v":2569},{"d":"2017-11-08","v":2583},{"d":"2017-11-17","v":2555},{"d":"2017-11-26","v":2611},{"d":"2017-12-05","v":2639},{"d":"2017-12-14","v":2658},{"d":"2017-12-21","v":2686},{"d":"2018-01-02","v":2678},{"d":"2018-01-07","v":2742},{"d":"2018-01-14","v":2778},{"d":"2018-01-22","v":2825},{"d":"2018-01-27","v":2861},{"d":"2018-02-02","v":2825},{"d":"2018-02-05","v":2667},{"d":"2018-02-08","v":2678},{"d":"2018-02-09","v":2583},{"d":"2018-02-14","v":2708},{"d":"2018-02-19","v":2722},{"d":"2018-02-23","v":2778},{"d":"2018-02-28","v":2678},{"d":"2018-03-05","v":2722},{"d":"2018-03-11","v":2783},{"d":"2018-03-17","v":2742},{"d":"2018-03-22","v":2678},{"d":"2018-03-25","v":2583},{"d":"2018-03-28","v":2639},{"d":"2018-03-31","v":2597},{"d":"2018-04-03","v":2653},{"d":"2018-04-06","v":2604}
]
},
"vconcat": [
{
"width": 797, "height": 122,
"layer": [
{"data": {"name": "rsi", "format": {"parse": {"d": "date"}}},
 "transform": [{"filter": {"field": "d", "range": [{"year": 2016, "month": 11, "date": 11}, {"year": 2016, "month": 11, "date": 30}]}}],
 "mark": {"type": "area", "color": "#a65b5b"},
 "encoding": {
  "x": {"field": "d", "type": "temporal", "scale": {"domain": [{"year": 2016, "month": 4, "date": 6}, {"year": 2018, "month": 4, "date": 12}]},
        "axis": {"title": null, "labels": false, "ticks": false, "domain": false, "grid": true, "tickCount": {"interval": "month", "step": 1}, "gridColor": {"condition": {"test": "month(datum.value) == 0", "value": "#b5b5b5"}, "value": "#e4e4e4"}}},
  "y": {"field": "v", "type": "quantitative", "scale": {"domain": [-7, 108], "nice": false, "zero": false},
        "axis": {"orient": "right", "title": null, "values": [0, 10, 20, 30, 40, 50, 60, 70, 80, 90, 100], "tickCount": 100, "labelExpr": "datum.value % 20 == 10 ? datum.label : ''", "labelOverlap": false, "grid": true, "gridColor": "#e4e4e4", "domain": false, "ticks": false, "labelPadding": 5, "labelFontSize": 12.5, "labelColor": "#222"}},
  "y2": {"datum": 30}}},
{"data": {"name": "rsi", "format": {"parse": {"d": "date"}}},
 "transform": [{"filter": {"field": "d", "range": [{"year": 2016, "month": 7, "date": 3}, {"year": 2016, "month": 7, "date": 11}]}}],
 "mark": {"type": "area", "color": "#6aa374"},
 "encoding": {"x": {"field": "d", "type": "temporal"}, "y": {"field": "v", "type": "quantitative"}, "y2": {"datum": 70}}},
{"data": {"values": [{}]}, "mark": {"type": "rule", "color": "#7a7a7a", "strokeWidth": 1}, "encoding": {"y": {"datum": 70}}},
{"data": {"values": [{}]}, "mark": {"type": "rule", "color": "#7a7a7a", "strokeWidth": 1}, "encoding": {"y": {"datum": 30}}},
{"data": {"values": [{}]}, "mark": {"type": "rule", "color": "#8a8a8a", "strokeWidth": 1, "strokeDash": [7, 3, 2, 3]}, "encoding": {"y": {"datum": 50}}},
{"data": {"name": "rsi", "format": {"parse": {"d": "date"}}},
 "mark": {"type": "line", "color": "#111111", "strokeWidth": 1.3},
 "encoding": {"x": {"field": "d", "type": "temporal"}, "y": {"field": "v", "type": "quantitative"}}},
{"data": {"values": [{}]}, "mark": {"type": "text", "text": "$USB", "align": "left", "baseline": "alphabetic", "fontSize": 16, "fontWeight": "bold", "color": "#111"},
 "encoding": {"x": {"datum": {"year": 2016, "month": 4, "date": 6}, "type": "temporal"}, "y": {"datum": 126.4}}},
{"data": {"values": [{}]}, "mark": {"type": "text", "text": "CME CBOT 30-Year US Treasury Bond Price (EOD)", "align": "left", "baseline": "alphabetic", "fontSize": 13.3, "color": "#111"},
 "encoding": {"x": {"datum": {"year": 2016, "month": 5, "date": 19}, "type": "temporal"}, "y": {"datum": 126.4}}},
{"data": {"values": [{}]}, "mark": {"type": "text", "text": "INDX", "align": "left", "baseline": "alphabetic", "fontSize": 12, "color": "#111"},
 "encoding": {"x": {"datum": {"year": 2017, "month": 3, "date": 5}, "type": "temporal"}, "y": {"datum": 126.4}}},
{"data": {"values": [{}]}, "mark": {"type": "text", "text": "© StockCharts.com", "align": "left", "baseline": "alphabetic", "fontSize": 13, "color": "#7a7a7a"},
 "encoding": {"x": {"datum": {"year": 2017, "month": 12, "date": 29}, "type": "temporal"}, "y": {"datum": 126.4}}},
{"data": {"values": [{}]}, "mark": {"type": "text", "text": "6-Apr-2018", "align": "left", "baseline": "alphabetic", "fontSize": 12.8, "color": "#111"},
 "encoding": {"x": {"datum": {"year": 2016, "month": 4, "date": 6}, "type": "temporal"}, "y": {"datum": 112.2}}},
{"data": {"values": [{}]}, "mark": {"type": "text", "text": "Open", "align": "left", "baseline": "alphabetic", "fontSize": 14, "fontWeight": "bold", "color": "#111"},
 "encoding": {"x": {"datum": {"year": 2017, "month": 1, "date": 23}, "type": "temporal"}, "y": {"datum": 112.2}}},
{"data": {"values": [{}]}, "mark": {"type": "text", "text": "145.21", "align": "left", "baseline": "alphabetic", "fontSize": 12.8, "color": "#111"},
 "encoding": {"x": {"datum": {"year": 2017, "month": 3, "date": 1}, "type": "temporal"}, "y": {"datum": 112.2}}},
{"data": {"values": [{}]}, "mark": {"type": "text", "text": "High", "align": "left", "baseline": "alphabetic", "fontSize": 14, "fontWeight": "bold", "color": "#111"},
 "encoding": {"x": {"datum": {"year": 2017, "month": 4, "date": 13}, "type": "temporal"}, "y": {"datum": 112.2}}},
{"data": {"values": [{}]}, "mark": {"type": "text", "text": "145.21", "align": "left", "baseline": "alphabetic", "fontSize": 12.8, "color": "#111"},
 "encoding": {"x": {"datum": {"year": 2017, "month": 5, "date": 16}, "type": "temporal"}, "y": {"datum": 112.2}}},
{"data": {"values": [{}]}, "mark": {"type": "text", "text": "Low", "align": "left", "baseline": "alphabetic", "fontSize": 14, "fontWeight": "bold", "color": "#111"},
 "encoding": {"x": {"datum": {"year": 2017, "month": 6, "date": 30}, "type": "temporal"}, "y": {"datum": 112.2}}},
{"data": {"values": [{}]}, "mark": {"type": "text", "text": "145.21", "align": "left", "baseline": "alphabetic", "fontSize": 12.8, "color": "#111"},
 "encoding": {"x": {"datum": {"year": 2017, "month": 7, "date": 31}, "type": "temporal"}, "y": {"datum": 112.2}}},
{"data": {"values": [{}]}, "mark": {"type": "text", "text": "Close", "align": "left", "baseline": "alphabetic", "fontSize": 14, "fontWeight": "bold", "color": "#111"},
 "encoding": {"x": {"datum": {"year": 2017, "month": 9, "date": 13}, "type": "temporal"}, "y": {"datum": 112.2}}},
{"data": {"values": [{}]}, "mark": {"type": "text", "text": "145.21", "align": "left", "baseline": "alphabetic", "fontSize": 12.8, "color": "#111"},
 "encoding": {"x": {"datum": {"year": 2017, "month": 10, "date": 25}, "type": "temporal"}, "y": {"datum": 112.2}}},
{"data": {"values": [{}]}, "mark": {"type": "text", "text": "Chg", "align": "left", "baseline": "alphabetic", "fontSize": 14, "fontWeight": "bold", "color": "#111"},
 "encoding": {"x": {"datum": {"year": 2017, "month": 12, "date": 8}, "type": "temporal"}, "y": {"datum": 112.2}}},
{"data": {"values": [{}]}, "mark": {"type": "text", "text": "+1.12 (+0.78%)", "align": "left", "baseline": "alphabetic", "fontSize": 12.8, "color": "#111"},
 "encoding": {"x": {"datum": {"year": 2018, "month": 1, "date": 6}, "type": "temporal"}, "y": {"datum": 112.2}}},
{"data": {"values": [{}]}, "mark": {"type": "text", "text": "▲", "align": "left", "baseline": "alphabetic", "fontSize": 9, "color": "#2e8b57"},
 "encoding": {"x": {"datum": {"year": 2018, "month": 4, "date": 3}, "type": "temporal"}, "y": {"datum": 112.2}}},
{"data": {"values": [{}]}, "mark": {"type": "text", "text": "RSI(14) 54.83", "align": "left", "baseline": "alphabetic", "font": "DejaVu Sans Mono", "fontSize": 12.5, "color": "#111"},
 "encoding": {"x": {"datum": {"year": 2016, "month": 4, "date": 24}, "type": "temporal"}, "y": {"datum": 96.7}}}
]
},
{
"width": 797, "height": 354,
"layer": [
{"data": {"name": "ma", "format": {"parse": {"d": "date"}}},
 "transform": [{"filter": "datum.s == 'MA200'"}],
 "mark": {"type": "line", "strokeWidth": 1.3, "color": "#e0274a"},
 "encoding": {
  "x": {"field": "d", "type": "temporal", "scale": {"domain": [{"year": 2016, "month": 4, "date": 6}, {"year": 2018, "month": 4, "date": 12}]},
        "axis": {"title": null, "labels": true, "ticks": false, "domain": false, "grid": true, "tickCount": {"interval": "month", "step": 1}, "gridColor": {"condition": {"test": "month(datum.value) == 0", "value": "#b5b5b5"}, "value": "#e4e4e4"}, "labelExpr": "month(datum.value) == 0 ? timeFormat(datum.value, '%Y') : timeFormat(datum.value, '%b')", "labelFontWeight": {"condition": {"test": "month(datum.value) == 0", "value": "bold"}, "value": "normal"}, "labelFontSize": {"condition": {"test": "month(datum.value) == 0", "value": 13}, "value": 12}, "labelColor": "#222", "labelPadding": 3, "labelOverlap": false, "labelFlush": false}},
  "y": {"field": "v", "type": "quantitative", "scale": {"domain": [140.76, 177.0], "nice": false, "zero": false},
        "axis": {"orient": "right", "title": null, "values": [142.5, 145, 147.5, 150, 152.5, 155, 157.5, 160, 162.5, 165, 167.5, 170, 172.5, 175], "tickCount": 100, "format": ".1f", "labelOverlap": false, "grid": true, "gridColor": "#e4e4e4", "domain": false, "ticks": false, "labelPadding": 5, "labelFontSize": 12.5, "labelColor": "#222"}}}},
{"data": {"name": "ma", "format": {"parse": {"d": "date"}}},
 "transform": [{"filter": "datum.s == 'MA50'"}],
 "mark": {"type": "line", "strokeWidth": 1.3, "color": "#3838aa"},
 "encoding": {"x": {"field": "d", "type": "temporal"}, "y": {"field": "v", "type": "quantitative"}}},
{"data": {"name": "price", "format": {"parse": {"d": "date"}}},
 "transform": [
  {"window": [{"op": "lead", "field": "v", "as": "nv"}, {"op": "lead", "field": "d", "as": "nd"}], "sort": [{"field": "d", "order": "ascending"}]},
  {"filter": "datum.nv != null"}],
 "mark": {"type": "rule", "strokeWidth": 1.9, "strokeCap": "round"},
 "encoding": {
  "x": {"field": "d", "type": "temporal"},
  "x2": {"field": "nd"},
  "y": {"field": "v", "type": "quantitative"},
  "y2": {"field": "nv"},
  "color": {"condition": {"test": "datum.nv < datum.v", "value": "#d8173a"}, "value": "#111111"}}},
{"data": {"values": [{}]}, "mark": {"type": "rule", "color": "#40218a", "strokeWidth": 1.3},
 "encoding": {"x": {"datum": {"year": 2017, "month": 2, "date": 2}, "type": "temporal"}, "x2": {"datum": {"year": 2018, "month": 4, "date": 13}}, "y": {"datum": 147.1}}},
{"data": {"values": [{}]}, "mark": {"type": "rule", "color": "#40218a", "strokeWidth": 1.3},
 "encoding": {"x": {"datum": {"year": 2018, "month": 1, "date": 12}, "type": "temporal"}, "x2": {"datum": {"year": 2018, "month": 5, "date": 10}}, "y": {"datum": 141.8}}},
{"data": {"values": [{}]}, "mark": {"type": "rule", "color": "#40218a", "strokeWidth": 1.3},
 "encoding": {"x": {"datum": {"year": 2018, "month": 1, "date": 28}, "type": "temporal"}, "y": {"datum": 150.0}, "y2": {"datum": 138.71}}},
{"data": {"values": [{}]}, "mark": {"type": "text", "text": "━ $USB (Daily) 145.21", "align": "left", "baseline": "alphabetic", "font": "DejaVu Sans Mono", "fontSize": 12.5, "color": "white", "stroke": "white", "strokeWidth": 7},
 "encoding": {"x": {"datum": {"year": 2016, "month": 4, "date": 9}, "type": "temporal"}, "y": {"datum": 175.62}}},
{"data": {"values": [{}]}, "mark": {"type": "text", "text": "━ MA(50) 144.18", "align": "left", "baseline": "alphabetic", "font": "DejaVu Sans", "fontSize": 11.5, "color": "white", "stroke": "white", "strokeWidth": 7},
 "encoding": {"x": {"datum": {"year": 2016, "month": 4, "date": 9}, "type": "temporal"}, "y": {"datum": 174.24}}},
{"data": {"values": [{}]}, "mark": {"type": "text", "text": "━ MA(200) 150.68", "align": "left", "baseline": "alphabetic", "font": "DejaVu Sans", "fontSize": 11.5, "color": "white", "stroke": "white", "strokeWidth": 7},
 "encoding": {"x": {"datum": {"year": 2016, "month": 4, "date": 9}, "type": "temporal"}, "y": {"datum": 172.85}}},
{"data": {"values": [{}]}, "mark": {"type": "text", "text": "▐ Volume undef", "align": "left", "baseline": "alphabetic", "font": "DejaVu Sans", "fontSize": 11, "color": "white", "stroke": "white", "strokeWidth": 7},
 "encoding": {"x": {"datum": {"year": 2016, "month": 4, "date": 9}, "type": "temporal"}, "y": {"datum": 171.47}}},
{"data": {"values": [{}]}, "mark": {"type": "text", "text": "━ $USB (Daily) 145.21", "align": "left", "baseline": "alphabetic", "font": "DejaVu Sans Mono", "fontSize": 12.5, "color": "#111"},
 "encoding": {"x": {"datum": {"year": 2016, "month": 4, "date": 9}, "type": "temporal"}, "y": {"datum": 175.62}}},
{"data": {"values": [{}]}, "mark": {"type": "text", "text": "━ MA(50) 144.18", "align": "left", "baseline": "alphabetic", "font": "DejaVu Sans", "fontSize": 11.5, "color": "#26269c"},
 "encoding": {"x": {"datum": {"year": 2016, "month": 4, "date": 9}, "type": "temporal"}, "y": {"datum": 174.24}}},
{"data": {"values": [{}]}, "mark": {"type": "text", "text": "━ MA(200) 150.68", "align": "left", "baseline": "alphabetic", "font": "DejaVu Sans", "fontSize": 11.5, "color": "#e0203f"},
 "encoding": {"x": {"datum": {"year": 2016, "month": 4, "date": 9}, "type": "temporal"}, "y": {"datum": 172.85}}},
{"data": {"values": [{}]}, "mark": {"type": "text", "text": "▐ Volume undef", "align": "left", "baseline": "alphabetic", "font": "DejaVu Sans", "fontSize": 11, "color": "#555"},
 "encoding": {"x": {"datum": {"year": 2016, "month": 4, "date": 9}, "type": "temporal"}, "y": {"datum": 171.47}}}
]
},
{
"width": 797, "height": 20,
"view": {"stroke": null},
"data": {"values": [{}]},
"mark": {"type": "text", "text": " "}
},
{
"width": 797, "height": 122,
"layer": [
{"data": {"name": "hist", "format": {"parse": {"d": "date"}}},
 "mark": {"type": "area", "color": "#2e80aa"},
 "encoding": {
  "x": {"field": "d", "type": "temporal", "scale": {"domain": [{"year": 2016, "month": 4, "date": 6}, {"year": 2018, "month": 4, "date": 12}]},
        "axis": {"title": null, "labels": false, "ticks": false, "domain": false, "grid": true, "tickCount": {"interval": "month", "step": 1}, "gridColor": {"condition": {"test": "month(datum.value) == 0", "value": "#b5b5b5"}, "value": "#e4e4e4"}}},
  "y": {"field": "v", "type": "quantitative", "scale": {"domain": [-3.62, 2.83], "nice": false, "zero": false},
        "axis": {"orient": "right", "title": null, "values": [-3, -2, -1, 0, 1, 2], "tickCount": 100, "labelExpr": "'' + datum.value", "labelOverlap": false, "grid": true, "gridColor": "#e4e4e4", "domain": false, "ticks": false, "labelPadding": 5, "labelFontSize": 12.5, "labelColor": "#222"}},
  "y2": {"datum": 0}}},
{"data": {"name": "macd", "format": {"parse": {"d": "date"}}},
 "transform": [{"filter": "datum.s == 'Signal'"}],
 "mark": {"type": "line", "color": "#f02828", "strokeWidth": 1.3},
 "encoding": {"x": {"field": "d", "type": "temporal"}, "y": {"field": "v", "type": "quantitative"}}},
{"data": {"name": "macd", "format": {"parse": {"d": "date"}}},
 "transform": [{"filter": "datum.s == 'MACD'"}],
 "mark": {"type": "line", "color": "#111111", "strokeWidth": 2.2},
 "encoding": {"x": {"field": "d", "type": "temporal"}, "y": {"field": "v", "type": "quantitative"}}},
{"data": {"values": [{}]}, "mark": {"type": "rule", "color": "#40218a", "strokeWidth": 1.3},
 "encoding": {"x": {"datum": {"year": 2018, "month": 1, "date": 28}, "type": "temporal"}, "y": {"datum": 2.83}, "y2": {"datum": -3.62}}},
{"data": {"values": [{}]}, "mark": {"type": "text", "text": "━ MACD(12,26,9) 0.214", "align": "left", "baseline": "alphabetic", "font": "DejaVu Sans Mono", "fontSize": 12.5, "color": "#111"},
 "encoding": {"x": {"datum": {"year": 2016, "month": 4, "date": 9}, "type": "temporal"}, "y": {"datum": 2.22}}},
{"data": {"values": [{}]}, "mark": {"type": "text", "text": ", 0.102", "align": "left", "baseline": "alphabetic", "font": "DejaVu Sans Mono", "fontSize": 12.5, "color": "#e8202a"},
 "encoding": {"x": {"datum": {"year": 2016, "month": 9, "date": 2}, "type": "temporal"}, "y": {"datum": 2.22}}},
{"data": {"values": [{}]}, "mark": {"type": "text", "text": ", 0.111", "align": "left", "baseline": "alphabetic", "font": "DejaVu Sans Mono", "fontSize": 12.5, "color": "#3a9bd0"},
 "encoding": {"x": {"datum": {"year": 2016, "month": 10, "date": 20}, "type": "temporal"}, "y": {"datum": 2.22}}}
]
},
{
"width": 797, "height": 123,
"layer": [
{"data": {"name": "spx", "format": {"parse": {"d": "date"}}},
 "mark": {"type": "line", "color": "#111111", "strokeWidth": 1.7},
 "encoding": {
  "x": {"field": "d", "type": "temporal", "scale": {"domain": [{"year": 2016, "month": 4, "date": 6}, {"year": 2018, "month": 4, "date": 12}]},
        "axis": {"title": null, "labels": true, "ticks": false, "domain": false, "grid": true, "tickCount": {"interval": "month", "step": 1}, "gridColor": {"condition": {"test": "month(datum.value) == 0", "value": "#b5b5b5"}, "value": "#e4e4e4"}, "labelExpr": "month(datum.value) == 0 ? timeFormat(datum.value, '%Y') : timeFormat(datum.value, '%b')", "labelFontWeight": {"condition": {"test": "month(datum.value) == 0", "value": "bold"}, "value": "normal"}, "labelFontSize": {"condition": {"test": "month(datum.value) == 0", "value": 13}, "value": 12}, "labelColor": "#222", "labelPadding": 4, "labelOverlap": false, "labelFlush": false}},
  "y": {"field": "v", "type": "quantitative", "scale": {"domain": [1928, 2952], "nice": false, "zero": false},
        "axis": {"orient": "right", "title": null, "values": [2000, 2200, 2400, 2600, 2800], "tickCount": 100, "format": "d", "labelOverlap": false, "grid": true, "gridColor": "#e4e4e4", "domain": false, "ticks": false, "labelPadding": 5, "labelFontSize": 12.5, "labelColor": "#222"}}}},
{"data": {"values": [{}]}, "mark": {"type": "rule", "color": "#40218a", "strokeWidth": 1.3},
 "encoding": {"x": {"datum": {"year": 2018, "month": 1, "date": 28}, "type": "temporal"}, "y": {"datum": 2952}, "y2": {"datum": 2244}}},
{"data": {"values": [{}]}, "mark": {"type": "text", "text": "━ $SPX 2604.47", "align": "left", "baseline": "alphabetic", "font": "DejaVu Sans Mono", "fontSize": 12.5, "color": "#111"},
 "encoding": {"x": {"datum": {"year": 2016, "month": 4, "date": 9}, "type": "temporal"}, "y": {"datum": 2835}}}
]
}
]
}
